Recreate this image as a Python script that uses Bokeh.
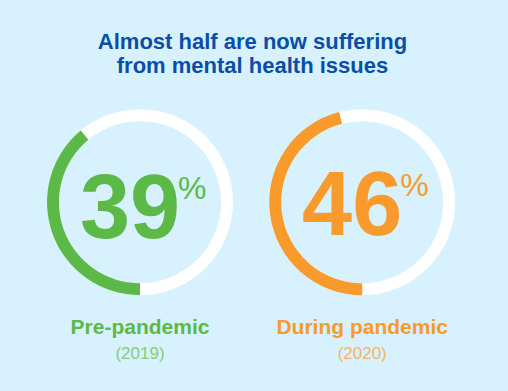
import math
from bokeh.plotting import figure
from bokeh.models import Range1d
from bokeh.core.properties import value
from bokeh.embed import file_html
from bokeh.resources import INLINE

# ---- data ----
title_lines = ["Almost half are now suffering", "from mental health issues"]
labels = ["Pre-pandemic", "During pandemic"]
years = ["(2019)", "(2020)"]
percents = [39, 46]
colors = ["#5cb947", "#f89a2c"]
year_colors = ["#84cd7c", "#f6b465"]

BG = "#d7f2fe"
W, H = 508, 391

p = figure(width=W, height=H, output_backend="svg", toolbar_location=None,
           x_range=Range1d(0, W), y_range=Range1d(0, H),
           min_border=0, outline_line_color=None,
           background_fill_color=BG, border_fill_color=BG)
p.axis.visible = False
p.grid.visible = False

font = value("Liberation Sans")

# title
p.text(x=[252, 252], y=[350.5, 325.8], text=title_lines, text_align="center",
       text_baseline="middle", text_font=font, text_font_style="bold",
       text_font_size="22px", text_color="#0a4ea8")

# layout (not data)
centers_x = [139.5, 361.7]
cy = 189.3
group_dy = [0, 3]
r_out, r_in = 93, 81

for i, (cx, pct, col) in enumerate(zip(centers_x, percents, colors)):
    # white full ring
    p.annular_wedge(x=[cx], y=[cy], inner_radius=r_in, outer_radius=r_out,
                    start_angle=0, end_angle=2 * math.pi,
                    fill_color="white", line_color=None)
    start = 1.5 * math.pi
    end = start - pct / 100 * 2 * math.pi
    p.annular_wedge(x=[cx], y=[cy], inner_radius=r_in, outer_radius=r_out,
                    start_angle=start, end_angle=end, direction="clock",
                    fill_color=col, line_color=None)
    dy = group_dy[i]
    # big number
    p.text(x=[cx + 40], y=[185.2 + dy], text=[str(pct)], text_align="right",
           text_baseline="middle", text_font=font, text_font_style="bold",
           text_font_size="90px", text_color=col)
    p.text(x=[cx + 38], y=[203.5 + dy], text=["%"], text_align="left",
           text_baseline="middle", text_font=font,
           text_font_size="32px", text_color=col)
    # labels
    p.text(x=[cx], y=[65.5], text=[labels[i]], text_align="center",
           text_baseline="middle", text_font=font, text_font_style="bold",
           text_font_size="21px", text_color=col)
    p.text(x=[cx], y=[38.5], text=[years[i]], text_align="center",
           text_baseline="middle", text_font=font,
           text_font_size="17px", text_color=year_colors[i])

try:
    from bokeh.core.templates import get_env
    tmpl = get_env().from_string(
        '{% extends "file.html" %}{% block preamble %}'
        '<style>html,body{background:' + BG + ';}</style>{% endblock %}')
    html = file_html(p, INLINE, template=tmpl)
except Exception:
    html = file_html(p, INLINE)

open("out.html", "w").write(html)
